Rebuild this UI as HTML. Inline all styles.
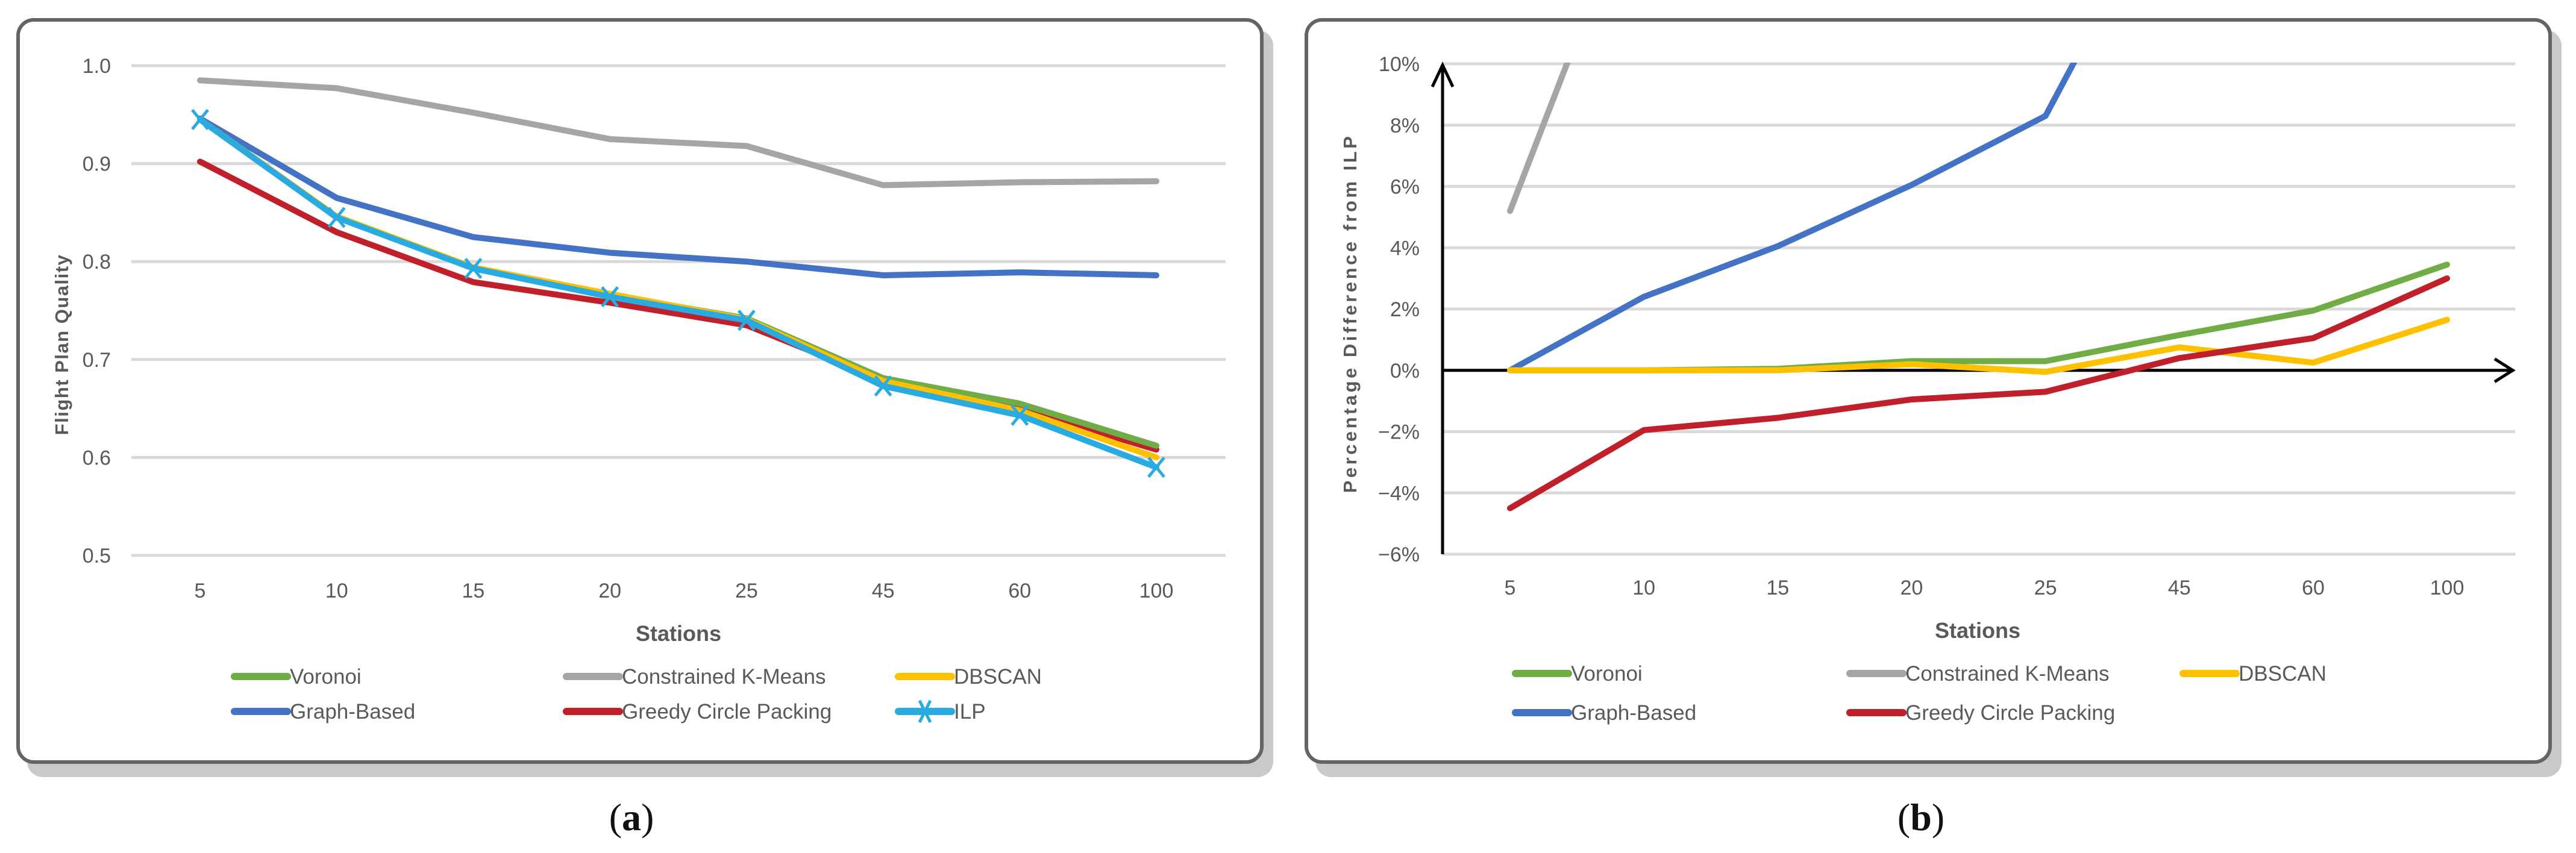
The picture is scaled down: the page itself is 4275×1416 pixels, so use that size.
<!DOCTYPE html>
<html><head><meta charset="utf-8">
<style>
html,body{margin:0;padding:0;background:#fff;}
svg{display:block;}
text{font-family:"Liberation Sans",sans-serif;}
</style></head>
<body>
<svg id="root" width="4275" height="1416" viewBox="0 0 4275 1416" xmlns="http://www.w3.org/2000/svg">
<defs>
<clipPath id="clipB"><rect x="2394" y="104" width="1780" height="818"/></clipPath>
</defs>
<rect x="45" y="50" width="2068" height="1240" rx="26" fill="#c8c9cb"/>
<rect x="30" y="33" width="2064" height="1232" rx="26" fill="#fff" stroke="#646464" stroke-width="6"/>
<rect x="2183" y="50" width="2068" height="1240" rx="26" fill="#c8c9cb"/>
<rect x="2168" y="33" width="2064" height="1232" rx="26" fill="#fff" stroke="#646464" stroke-width="6"/>
<g id="chartA"></g>
<g id="chartB"></g>
<text x="1048" y="1378" font-size="64" text-anchor="middle" fill="#111" style="font-family:'Liberation Serif',serif">(<tspan font-weight="bold">a</tspan>)</text>
<text x="3188" y="1378" font-size="64" text-anchor="middle" fill="#111" style="font-family:'Liberation Serif',serif">(<tspan font-weight="bold">b</tspan>)</text>
</svg>
<script>
const categories = ["5","10","15","20","25","45","60","100"];
// Chart A (flight plan quality)
const aTicks = [0.5,0.6,0.7,0.8,0.9,1.0];
const aTickLabels = ["0.5","0.6","0.7","0.8","0.9","1.0"];
const aVoronoi = [0.945,0.846,0.794,0.766,0.742,0.681,0.655,0.612];
const aKMeans = [0.985,0.977,0.952,0.925,0.918,0.878,0.881,0.882];
const aDBSCAN = [0.945,0.846,0.794,0.767,0.741,0.678,0.648,0.600];
const aGraph = [0.946,0.865,0.825,0.809,0.800,0.786,0.789,0.786];
const aGreedy = [0.902,0.830,0.779,0.758,0.735,0.679,0.650,0.608];
const aILP = [0.945,0.845,0.793,0.764,0.740,0.673,0.643,0.590];
// Chart B (percentage difference from ILP)
const bTicks = [-6,-4,-2,0,2,4,6,8,10];
const bTickLabels = ["\u22126%","\u22124%","\u22122%","0%","2%","4%","6%","8%","10%"];
const bVoronoi = [0,0,0.05,0.3,0.3,1.15,1.95,3.45];
const bKMeans = [5.2,16.5,21,21,24,30,37,49.5];
const bDBSCAN = [0,0,0,0.2,-0.05,0.75,0.25,1.65];
const bGraph = [0,2.4,4.05,6.05,8.3,16.5,22.7,33.2];
const bGreedy = [-4.5,-1.95,-1.55,-0.95,-0.7,0.4,1.05,3.0];

const NS="http://www.w3.org/2000/svg";
const C={green:"#70ad47",gray:"#a5a5a5",yellow:"#ffc000",blue:"#4472c4",red:"#c0202a",cyan:"#29abe2"};
function mk(tag,attrs,parent){const e=document.createElementNS(NS,tag);for(const k in attrs)e.setAttribute(k,attrs[k]);parent.appendChild(e);return e;}

function drawChart(g,opt){
  const xs=i=>opt.x0+i*(opt.x1-opt.x0)/(categories.length-1);
  const ys=v=>opt.yb+(v-opt.vmin)/(opt.vmax-opt.vmin)*(opt.yt-opt.yb);
  opt.ticks.forEach((t,i)=>{
    const l=mk("line",{x1:opt.gx0,x2:opt.gx1,y1:ys(t),y2:ys(t),stroke:"#d9d9d9","stroke-width":5},g);
    
    
    const tx=mk("text",{x:opt.lx,y:ys(t)+12,"text-anchor":"end","font-size":34,fill:"#595959"},g);
    tx.textContent=opt.tickLabels[i];
    
    
  });
  categories.forEach((c,i)=>{
    const tx=mk("text",{x:xs(i),y:opt.catY,"text-anchor":"middle","font-size":34,fill:"#595959"},g);
    tx.textContent=c;
    
    
  });
  if(opt.axes){
    const ax=mk("g",{stroke:"#000","stroke-width":5,fill:"none"},g);
    
    
    mk("line",{x1:opt.gx0,y1:ys(opt.vmin),x2:opt.gx0,y2:ys(opt.vmax)+2},ax);
    mk("polyline",{points:`${opt.gx0-17},${ys(opt.vmax)+38} ${opt.gx0},${ys(opt.vmax)+2} ${opt.gx0+17},${ys(opt.vmax)+38}`},ax);
    mk("line",{x1:opt.gx0,y1:ys(0),x2:opt.gx1-4,y2:ys(0)},ax);
    mk("polyline",{points:`${opt.gx1-34},${ys(0)-19} ${opt.gx1-4},${ys(0)} ${opt.gx1-34},${ys(0)+19}`},ax);
  }
  const lg=mk("g",opt.clip?{"clip-path":"url(#"+opt.clip+")"}:{},g);
  opt.series.forEach(s=>{
    const pts=s.data.map((v,i)=>xs(i)+","+ys(v)).join(" ");
    const pl=mk("polyline",{points:pts,fill:"none",stroke:s.color,"stroke-width":10,"stroke-linejoin":"round","stroke-linecap":"round"},lg);
    
    
    if(s.marker){
      s.data.forEach((v,i)=>{
        const x=xs(i),y=ys(v);
        const m=mk("path",{d:`M${x-13},${y-16}L${x+13},${y+16}M${x+13},${y-16}L${x-13},${y+16}`,stroke:s.color,"stroke-width":5},lg);
        
        
      });
    }
  });
  const yt=mk("text",{transform:`translate(${opt.titleX},${opt.titleY}) rotate(-90)`,"text-anchor":"middle","font-size":31,"font-weight":"bold",fill:"#595959","letter-spacing":opt.titleLS},g);
  yt.textContent=opt.yTitle;
  
  
  const xt=mk("text",{x:opt.stX,y:opt.stY,"text-anchor":"middle","font-size":36,"font-weight":"bold",fill:"#595959"},g);
  xt.textContent="Stations";
  
  
  opt.legend.forEach(L=>{
    const eg=mk("g",{},g);
    
    
    mk("line",{x1:L.x,x2:L.x+88,y1:L.y,y2:L.y,stroke:L.color,"stroke-width":12,"stroke-linecap":"round"},eg);
    if(L.marker){const cx=L.x+44;mk("path",{d:`M${cx-9},${L.y-18}L${cx+9},${L.y+18}M${cx+9},${L.y-18}L${cx-9},${L.y+18}`,stroke:L.color,"stroke-width":5},eg);}
    const t=mk("text",{x:L.x+92,y:L.y+12,"font-size":35,fill:"#595959"},eg);
    t.textContent=L.label;
  });
}
const legA=[
 {key:"voronoi",label:"Voronoi",color:C.green,x:389,y:1123},
 {key:"kmeans",label:"Constrained K-Means",color:C.gray,x:940,y:1123},
 {key:"dbscan",label:"DBSCAN",color:C.yellow,x:1491,y:1123},
 {key:"graph",label:"Graph-Based",color:C.blue,x:389,y:1181},
 {key:"greedy",label:"Greedy Circle Packing",color:C.red,x:940,y:1181},
 {key:"ilp",label:"ILP",color:C.cyan,x:1491,y:1181,marker:true}];
drawChart(document.getElementById("chartA"),{
 x0:332,x1:1919,gx0:218,gx1:2034,yt:109,yb:922,vmin:0.5,vmax:1.0,ticks:aTicks,tickLabels:aTickLabels,
 lx:184,catY:992,titleX:113,titleY:572,titleLS:1.5,yTitle:"Flight Plan Quality",stX:1126,stY:1064,
 series:[{key:"kmeans",data:aKMeans,color:C.gray},{key:"graph",data:aGraph,color:C.blue},
  {key:"greedy",data:aGreedy,color:C.red},{key:"voronoi",data:aVoronoi,color:C.green},
  {key:"dbscan",data:aDBSCAN,color:C.yellow},{key:"ilp",data:aILP,color:C.cyan,marker:true}],
 legend:legA});
const legB=[
 {key:"voronoi",label:"Voronoi",color:C.green,x:2515,y:1118},
 {key:"kmeans",label:"Constrained K-Means",color:C.gray,x:3070,y:1118},
 {key:"dbscan",label:"DBSCAN",color:C.yellow,x:3623,y:1118},
 {key:"graph",label:"Graph-Based",color:C.blue,x:2515,y:1183},
 {key:"greedy",label:"Greedy Circle Packing",color:C.red,x:3070,y:1183}];
drawChart(document.getElementById("chartB"),{
 x0:2506,x1:4061,gx0:2394,gx1:4174,yt:106,yb:920,vmin:-6,vmax:10,ticks:bTicks,tickLabels:bTickLabels,
 lx:2356,catY:987,titleX:2251,titleY:520,titleLS:4.5,yTitle:"Percentage Difference from ILP",stX:3282,stY:1059,axes:true,clip:"clipB",
 series:[{key:"kmeans",data:bKMeans,color:C.gray},{key:"graph",data:bGraph,color:C.blue},
  {key:"voronoi",data:bVoronoi,color:C.green},{key:"dbscan",data:bDBSCAN,color:C.yellow},
  {key:"greedy",data:bGreedy,color:C.red}],
 legend:legB});
</script>
</body></html>
